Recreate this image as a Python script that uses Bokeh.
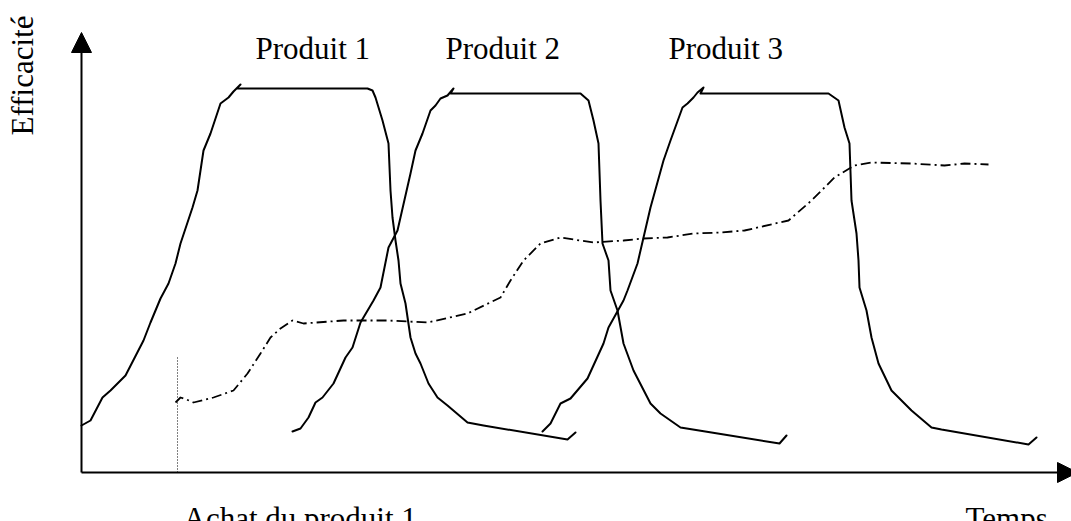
from bokeh.plotting import figure
from bokeh.models import Range1d, Arrow, NormalHead, Label, ColumnDataSource
from bokeh.core.properties import value
from bokeh.embed import file_html
from bokeh.resources import INLINE

# ---- data (Temps, Efficacité) ----
p1_t = [0, 9, 21, 29, 44, 62, 69, 79, 87, 94, 99, 111, 116, 122, 129, 139, 143, 147, 152, 159, 155,
        286, 291, 294, 301, 307, 309, 311, 314, 317, 319, 324, 329, 334, 339, 347, 356, 366, 386, 402, 486, 494]
p1_e = [47, 52, 75, 82, 97, 132, 150, 174, 189, 209, 229, 265, 282, 322, 339, 369, 372, 375, 381, 388, 384,
        384, 382, 375, 352, 329, 282, 255, 232, 212, 189, 169, 135, 119, 109, 89, 75, 67, 50, 47, 33, 40]

p2_t = [211, 219, 227, 234, 241, 252, 264, 271, 279, 292, 299, 307, 316, 329, 334, 341, 349, 354, 359, 366, 372, 369,
        499, 507, 512, 517, 519, 521, 527, 529, 536, 542, 552, 569, 579, 599, 630, 698, 705]
p2_e = [41, 44, 55, 70, 75, 89, 115, 125, 150, 172, 185, 225, 242, 299, 322, 339, 362, 367, 374, 377, 384, 379,
        379, 372, 352, 329, 272, 229, 212, 182, 162, 129, 102, 69, 59, 45, 40, 29, 37]

p3_t = [461, 469, 479, 489, 506, 522, 527, 542, 546, 556, 559, 569, 582, 589, 601, 606, 612, 616, 622, 619,
        747, 757, 763, 768, 770, 775, 777, 778, 785, 790, 797, 810, 823, 830, 850, 860, 947, 955]
p3_e = [41, 49, 69, 74, 94, 129, 145, 172, 182, 209, 222, 265, 312, 332, 365, 369, 375, 380, 385, 379,
        379, 372, 345, 329, 272, 239, 212, 185, 162, 135, 109, 82, 69, 62, 45, 43, 28, 35]

gen_t = [94, 99, 105, 112, 132, 152, 166, 179, 189, 199, 211, 222, 262, 306, 346, 386, 419, 429, 442, 459,
         479, 512, 542, 562, 586, 612, 639, 663, 707, 730, 753, 773, 790, 830, 863, 883, 907]
gen_e = [70, 75, 73, 70, 75, 82, 99, 119, 135, 144, 152, 149, 152, 152, 150, 159, 175, 192, 212, 229,
         235, 230, 232, 234, 235, 239, 240, 242, 252, 272, 295, 307, 310, 309, 307, 309, 308]

achat_t = [96, 96]
achat_e = [115, 0]

product_names = ["Produit 1", "Produit 2", "Produit 3"]
product_t = [174, 364, 587]
product_e = [424, 424, 424]

axis_end_t = 996
axis_end_e = 440

bottom_texts = ["Achat du produit 1", "Temps"]
bottom_t = [102, 884]
bottom_e = [-46, -46]

y_title = "Efficacité"
y_title_t = -59
y_title_e = 337

# ---- figure ----
p = figure(width=1071, height=521, x_range=Range1d(-81, 990), y_range=Range1d(-49, 472),
           output_backend="svg", toolbar_location=None, x_axis_location=None, y_axis_location=None,
           min_border=0, outline_line_color=None, background_fill_color="white",
           border_fill_color="white")
p.xgrid.visible = False
p.ygrid.visible = False

FONT = "Liberation Serif"

# axes with arrow heads
p.add_layout(Arrow(x_start=0, y_start=0, x_end=0, y_end=axis_end_e, line_width=2, line_color="black",
                   end=NormalHead(size=20, fill_color="black", line_color="black", line_width=1)))
p.add_layout(Arrow(x_start=0, y_start=0, x_end=axis_end_t, y_end=0, line_width=2, line_color="black",
                   end=NormalHead(size=20, fill_color="black", line_color="black", line_width=1)))

# product curves
for tt, ee in [(p1_t, p1_e), (p2_t, p2_e), (p3_t, p3_e)]:
    p.line(tt, ee, line_color="black", line_width=2, line_join="round", line_cap="round")

# general dash-dot curve
p.line(gen_t, gen_e, line_color="black", line_width=1.8, line_dash="10 4 2 4", line_join="round")

# dotted purchase marker
p.line(achat_t, achat_e, line_color="black", line_width=1, line_dash="1 2")

# product labels
src = ColumnDataSource(dict(t=product_t, e=product_e, name=product_names))
p.text(x="t", y="e", text="name", source=src, text_font=value(FONT), text_font_size="31px",
       text_color="black", text_align="left", text_baseline="alphabetic")

# bottom labels
for txt, tt, ee in zip(bottom_texts, bottom_t, bottom_e):
    p.add_layout(Label(x=tt, y=ee, text=txt, text_font=FONT, text_font_size="31px",
                       text_color="black", text_align="left", text_baseline="alphabetic"))

# y title
p.add_layout(Label(x=y_title_t, y=y_title_e, text=y_title, angle=1.5707963, text_font=FONT,
                   text_font_size="31px", text_color="black", text_align="left",
                   text_baseline="alphabetic"))

open("out.html", "w").write(file_html(p, INLINE))
